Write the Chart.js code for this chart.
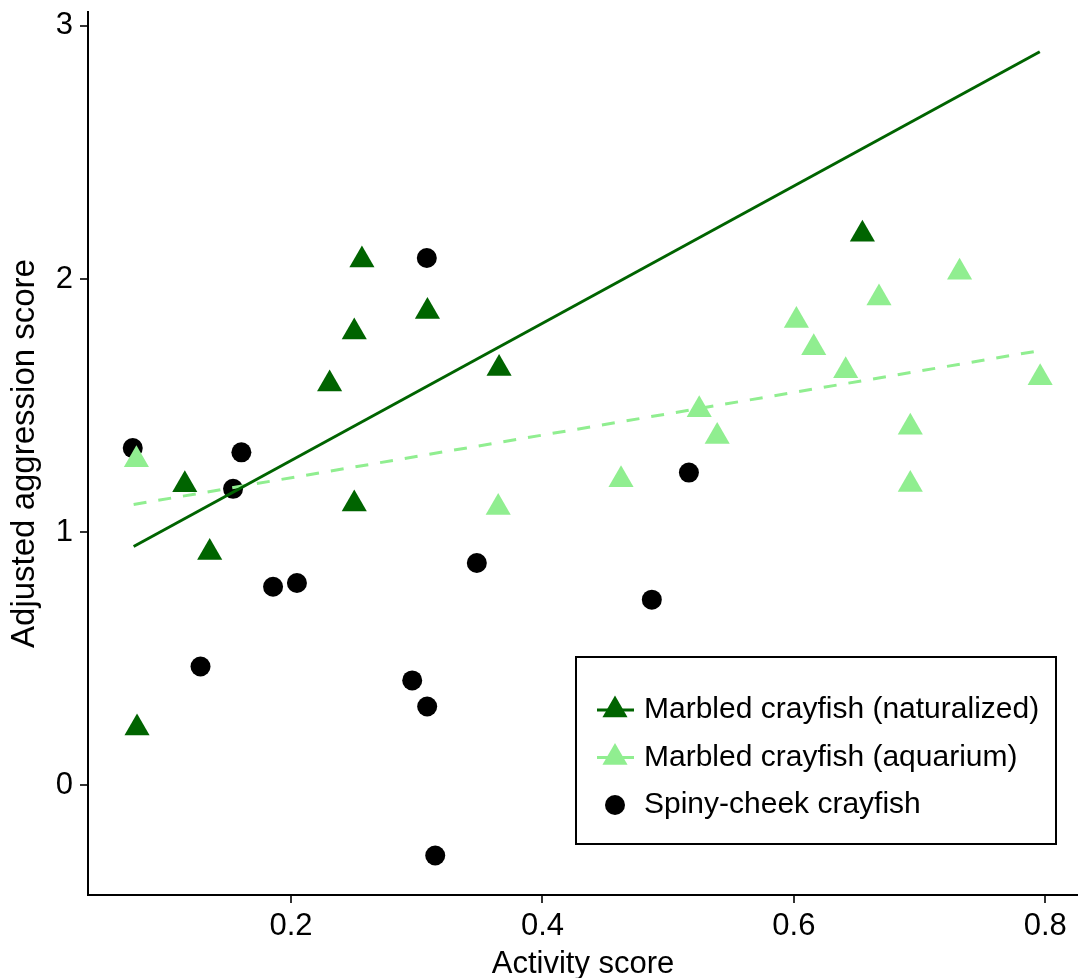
<!DOCTYPE html>
<html>
<head>
<meta charset="utf-8">
<script src="https://cdn.jsdelivr.net/npm/chart.js@4/dist/chart.umd.min.js"></script>
<style>
  html, body { margin: 0; padding: 0; background: #fff; }
  canvas { display: block; }
</style>
</head>
<body>
<canvas id="crayfishChart" width="1078" height="978"></canvas>
<script>
// Activity vs adjusted aggression
const naturalizedX = [0.0775, 0.1155, 0.1353, 0.2307, 0.2503, 0.2564, 0.2503, 0.3085, 0.3655, 0.6545];
const naturalizedY = [0.226, 1.187, 0.919, 1.585, 1.791, 2.075, 1.111, 1.872, 1.646, 2.177];

const aquariumX = [0.077, 0.3648, 0.4625, 0.5247, 0.539, 0.602, 0.6158, 0.6412, 0.6677, 0.6926, 0.6926, 0.7318, 0.7959];
const aquariumY = [1.286, 1.097, 1.207, 1.483, 1.378, 1.836, 1.728, 1.637, 1.925, 1.414, 1.188, 2.027, 1.61];

const spinyX = [0.0741, 0.128, 0.1539, 0.1605, 0.1857, 0.2047, 0.2964, 0.3083, 0.308, 0.3147, 0.3478, 0.487, 0.5165];
const spinyY = [1.332, 0.469, 1.171, 1.315, 0.784, 0.799, 0.414, 0.311, 2.083, -0.278, 0.878, 0.733, 1.235];

// regression line end points
const fitX = [0.0748, 0.7956];
const naturalizedFitY = [0.943, 2.898];
const aquariumFitY = [1.109, 1.717];

const xTicks = [0.2, 0.4, 0.6, 0.8];
const yTicks = [0, 1, 2, 3];

const seriesLabels = ["Marbled crayfish (naturalized)", "Marbled crayfish (aquarium)", "Spiny-cheek crayfish"];

const DARK = '#006400';
const LIGHT = '#90EE90';
const FONT = '"Liberation Sans", Arial, sans-serif';

const toPoints = (xs, ys) => xs.map((x, i) => ({ x: x, y: ys[i] }));

// legend drawn inside the plot, like the original
const insetLegend = {
    id: 'insetLegend',
    afterDatasetsDraw(chart) {
        const ctx = chart.ctx;
        const box = { left: 576, top: 657, right: 1056, bottom: 844 };
        const rows = [710, 757.5, 805];
        ctx.save();
        ctx.lineWidth = 2;
        ctx.strokeStyle = '#000';
        ctx.strokeRect(box.left, box.top, box.right - box.left, box.bottom - box.top);

        const entries = chart.data.datasets.filter(d => d.inLegend);
        entries.forEach((ds, i) => {
            const y = rows[i];
            const cx = 615;
            if (ds.legendLine) {
                ctx.beginPath();
                ctx.strokeStyle = ds.legendLine;
                ctx.lineWidth = 3;
                ctx.moveTo(597, y);
                ctx.lineTo(634, y);
                ctx.stroke();
            }
            ctx.fillStyle = ds.backgroundColor;
            ctx.beginPath();
            if (ds.pointStyle === 'triangle') {
                const r = 14.5;
                ctx.moveTo(cx, y - r);
                ctx.lineTo(cx + r * Math.sqrt(3) / 2, y + r / 2);
                ctx.lineTo(cx - r * Math.sqrt(3) / 2, y + r / 2);
                ctx.closePath();
            } else {
                ctx.arc(cx, y, 10, 0, Math.PI * 2);
            }
            ctx.fill();

            ctx.fillStyle = '#000';
            ctx.font = '30px ' + FONT;
            ctx.textAlign = 'left';
            ctx.textBaseline = 'middle';
            ctx.fillText(ds.label, 644, y);
        });
        ctx.restore();
    }
};

const canvas = document.getElementById('crayfishChart');

new Chart(canvas, {
    type: 'scatter',
    data: {
        datasets: [
            {
                label: 'fit naturalized',
                type: 'line',
                data: toPoints(fitX, naturalizedFitY),
                borderColor: DARK,
                borderWidth: 3,
                pointRadius: 0,
                fill: false
            },
            {
                label: 'fit aquarium',
                type: 'line',
                data: toPoints(fitX, aquariumFitY),
                borderColor: LIGHT,
                borderWidth: 3,
                borderDash: [13, 12],
                pointRadius: 0,
                fill: false
            },
            {
                label: seriesLabels[0],
                data: toPoints(naturalizedX, naturalizedY),
                pointStyle: 'triangle',
                pointRadius: 14.5,
                backgroundColor: DARK,
                borderWidth: 0,
                inLegend: true,
                legendLine: DARK
            },
            {
                label: seriesLabels[1],
                data: toPoints(aquariumX, aquariumY),
                pointStyle: 'triangle',
                pointRadius: 14.5,
                backgroundColor: LIGHT,
                borderWidth: 0,
                inLegend: true,
                legendLine: LIGHT
            },
            {
                label: seriesLabels[2],
                data: toPoints(spinyX, spinyY),
                pointStyle: 'circle',
                pointRadius: 10,
                backgroundColor: '#000',
                borderWidth: 0,
                inLegend: true
            }
        ]
    },
    options: {
        responsive: false,
        animation: false,
        devicePixelRatio: 1,
        layout: { autoPadding: false, padding: { top: 12, left: 0, right: 0, bottom: 0 } },
        plugins: {
            legend: { display: false },
            tooltip: { enabled: false }
        },
        scales: {
            x: {
                type: 'linear',
                min: 0.0385,
                max: 0.826,
                afterBuildTicks: (scale) => { scale.ticks = xTicks.map(v => ({ value: v })); },
                afterFit: (scale) => {
                    scale.height = 83;
                    scale.paddingLeft = 0;
                    scale.paddingRight = 0;
                },
                grid: { display: true, drawOnChartArea: false, drawTicks: true, tickLength: 8, color: '#333', lineWidth: 2 },
                border: { display: true, color: '#000', width: 2 },
                ticks: {
                    color: '#000',
                    padding: 5,
                    font: { family: FONT, size: 31 },
                    callback: (v) => v.toFixed(1)
                },
                title: {
                    display: true,
                    text: 'Activity score',
                    color: '#000',
                    font: { family: FONT, size: 31, lineHeight: 1 },
                    padding: { top: 0, bottom: -2 }
                }
            },
            y: {
                type: 'linear',
                min: -0.434,
                max: 3.055,
                afterBuildTicks: (scale) => { scale.ticks = yTicks.map(v => ({ value: v })); },
                afterFit: (scale) => {
                    scale.width = 88;
                    scale.paddingTop = 0;
                    scale.paddingBottom = 0;
                },
                grid: { display: true, drawOnChartArea: false, drawTicks: true, tickLength: 8, color: '#333', lineWidth: 2 },
                border: { display: true, color: '#000', width: 2 },
                ticks: {
                    color: '#000',
                    padding: 7,
                    font: { family: FONT, size: 31 },
                    callback: (v) => String(v)
                },
                title: {
                    display: true,
                    text: 'Adjusted aggression score',
                    color: '#000',
                    font: { family: FONT, size: 33, lineHeight: 1 },
                    padding: { top: 8, bottom: 0 }
                }
            }
        }
    },
    plugins: [insetLegend]
});
</script>
</body>
</html>
